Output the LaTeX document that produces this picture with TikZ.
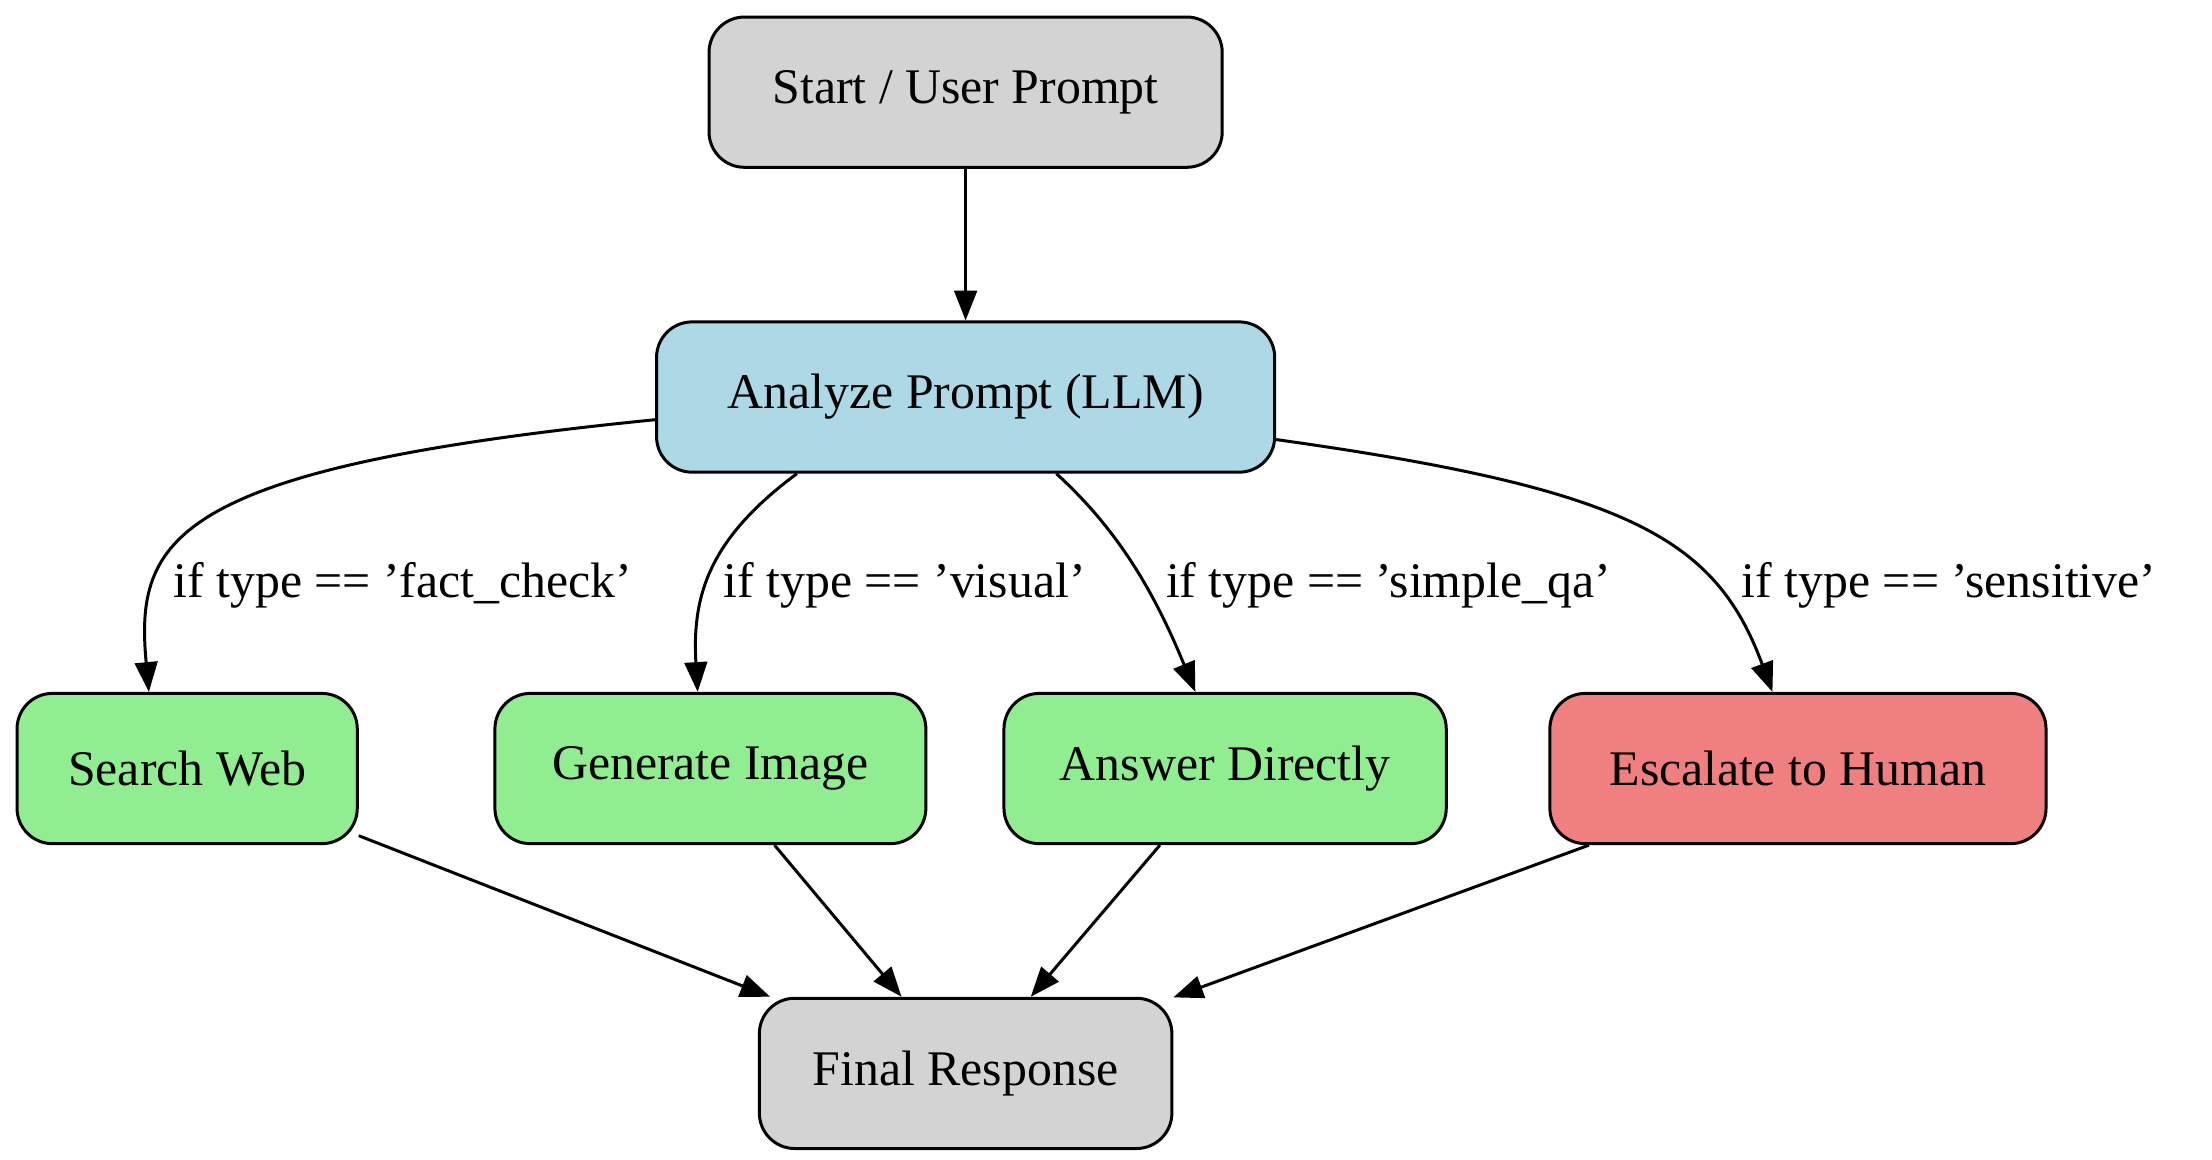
\documentclass[tikz,border=0pt]{standalone}
\usepackage{fontspec}
\setmainfont{Liberation Serif}
\usetikzlibrary{arrows.meta,calc}
\definecolor{cgray}{HTML}{D3D3D3}
\definecolor{cblue}{HTML}{ADD8E6}
\definecolor{cgreen}{HTML}{90EE90}
\definecolor{ccoral}{HTML}{F08080}
\begin{document}
\begin{tikzpicture}[x=0.02cm,y=-0.02cm,
  box/.style={draw,line width=1.2pt,rounded corners=0.5cm,minimum height=2.12cm,font=\fontsize{20}{24}\selectfont},
  conn/.style={line width=1.2pt,-{Triangle[length=0.42cm,width=0.32cm]}},
  lbl/.style={font=\fontsize{20}{24}\selectfont,anchor=west,inner sep=0pt}]
\useasboundingbox (0,0) rectangle (1560,818);
\node[box,fill=cgray,minimum width=7.24cm] (s) at (681,65) {Start / User Prompt};
\node[box,fill=cblue,minimum width=8.72cm] (a) at (681,280) {Analyze Prompt (LLM)};
\node[box,fill=cgreen,minimum width=4.8cm] (sw) at (132,542) {Search Web};
\node[box,fill=cgreen,minimum width=6.08cm] (gi) at (501,542) {Generate Image};
\node[box,fill=cgreen,minimum width=6.24cm] (ad) at (864,542) {Answer Directly};
\node[box,fill=ccoral,minimum width=7.0cm] (eh) at (1268,542) {Escalate to Human};
\node[box,fill=cgray,minimum width=5.82cm] (f) at (681,757) {Final Response};
\draw[conn] (s) -- (a);
\draw[conn] ($(a.west)+(0,16)$) .. controls (120,330) and (95,380) .. ($(sw.north)+(-27,0)$);
\draw[conn] ($(a.south)+(-119,0)$) .. controls (500,380) and (488,420) .. ($(gi.north)+(-9,0)$);
\draw[conn] ($(a.south)+(64,0)$) .. controls (790,375) and (815,420) .. ($(ad.north)+(-21,0)$);
\draw[conn] ($(a.east)+(0,30)$) .. controls (1150,345) and (1210,380) .. ($(eh.north)+(-18,0)$);
\node[lbl] (l1) at (122,413) {if type == 'fact\_check'};
\node[lbl] (l2) at (510,413) {if type == 'visual'};
\node[lbl] (l3) at (822,413) {if type == 'simple\_qa'};
\node[lbl] (l4) at (1228,413) {if type == 'sensitive'};
\draw[conn] (sw) -- (f);
\draw[conn] (gi) -- (f);
\draw[conn] (ad) -- (f);
\draw[conn] (eh) -- (f);
\end{tikzpicture}
\end{document}
